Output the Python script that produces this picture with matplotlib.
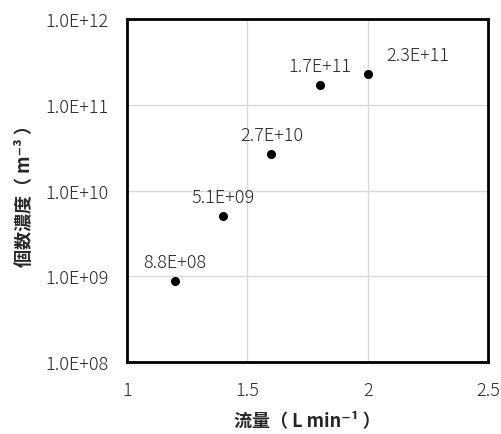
import numpy as np
import matplotlib
matplotlib.use('Agg')
import matplotlib.pyplot as plt
from matplotlib.ticker import FixedLocator, NullLocator

plt.rcParams['font.family'] = ['Noto Sans CJK JP', 'DejaVu Sans']

# flow rate (L/min) and number concentration (m-3)
flow = [1.2, 1.4, 1.6, 1.8, 2.0]
conc = [8.8e8, 5.1e9, 2.7e10, 1.7e11, 2.3e11]
point_labels = ['8.8E+08', '5.1E+09', '2.7E+10', '1.7E+11', '2.3E+11']
xticks = [1, 1.5, 2, 2.5]
xtick_labels = ['1', '1.5', '2', '2.5']
yticks = [1e8, 1e9, 1e10, 1e11, 1e12]
ytick_labels = ['1.0E+08', '1.0E+09', '1.0E+10', '1.0E+11', '1.0E+12']

fig = plt.figure(figsize=(5.02, 4.35), dpi=100)
ax = fig.add_axes([0.253, 0.1655, 0.719, 0.7885])

ax.plot(flow, conc, 'o', color='black', markersize=5.5, zorder=3)

ax.set_yscale('log')
ax.set_xlim(1, 2.5)
ax.set_ylim(1e8, 1e12)
ax.xaxis.set_major_locator(FixedLocator(xticks))
ax.set_xticklabels(xtick_labels)
ax.yaxis.set_major_locator(FixedLocator(yticks))
ax.yaxis.set_minor_locator(NullLocator())
ax.set_yticklabels(ytick_labels)
ax.tick_params(axis='both', length=0, labelsize=13, colors='#262626')
ax.tick_params(axis='y', pad=13)
ax.tick_params(axis='x', pad=14)
for lab in ax.get_xticklabels() + ax.get_yticklabels():
    lab.set_fontweight('light')

ax.grid(True, color='#d9d9d9', linewidth=1)
ax.set_axisbelow(True)
for s in ax.spines.values():
    s.set_linewidth(2)
    s.set_color('black')

# data labels, last one sits to the right
offsets = [(0, 7), (0, 7), (0, 7), (0, 7), (36, 7)]
for x, y, t, off in zip(flow, conc, point_labels, offsets):
    ax.annotate(t, (x, y), xytext=off, textcoords='offset points',
                ha='center', va='bottom', fontsize=13, color='#262626',
                fontweight='light')

ax.set_xlabel('流量（ L min⁻¹ ）', fontsize=13, fontweight='bold', color='#262626', labelpad=8)
ax.set_ylabel('個数濃度（ m⁻³ ）', fontsize=13, fontweight='bold', color='#262626', labelpad=8)

fig.savefig('out.png', dpi=100)
